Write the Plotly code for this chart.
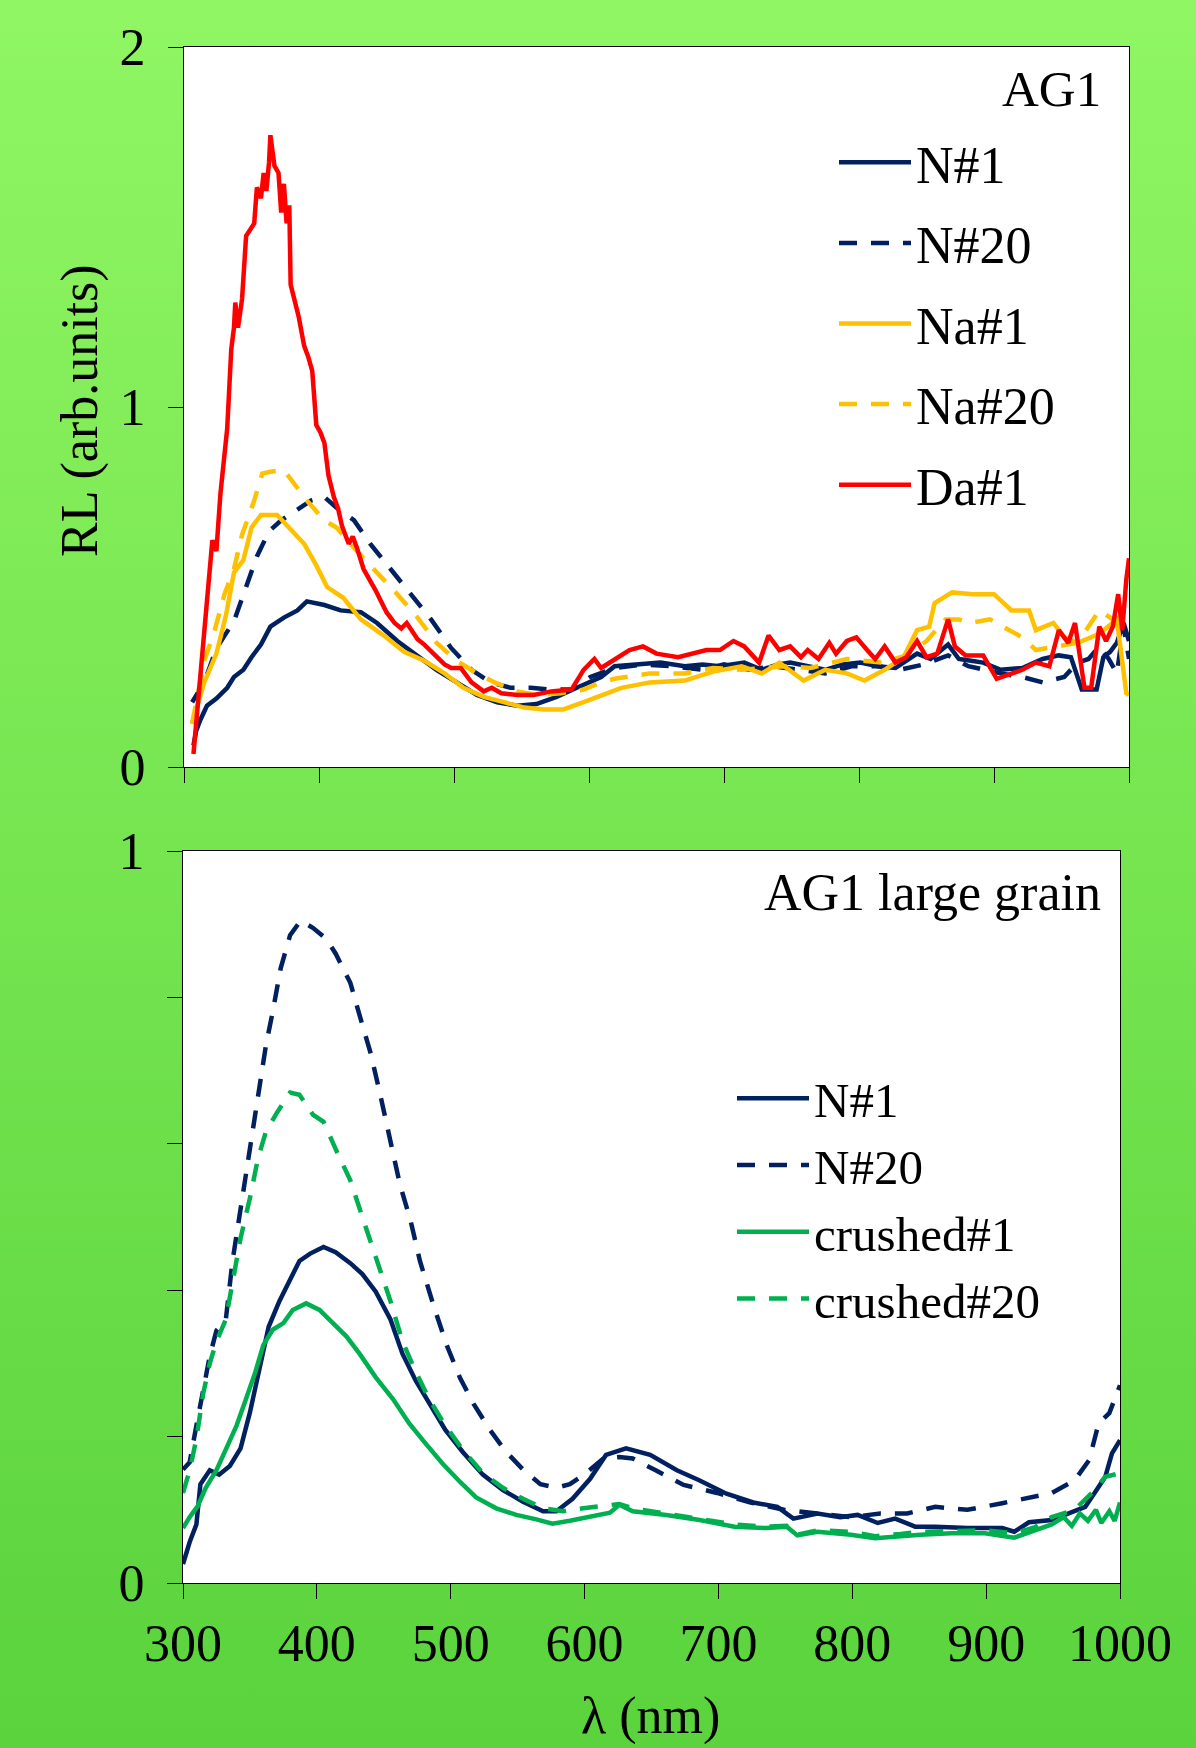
import base64
import plotly.graph_objects as go

W, H = 1196, 1748

# ---------------- data (wavelength nm, RL arb. units) ----------------
AG1_N1 = [(307,0.06),(309,0.10),(312,0.13),(317,0.17),(324,0.19),(332,0.22),(337,0.25),(344,0.27),(350,0.305),(357,0.34),
          (364,0.39),(374,0.415),(384,0.435),(391,0.46),(404,0.45),(416,0.435),(431,0.43),(443,0.40),(458,0.35),(473,0.31),
          (487,0.27),(502,0.235),(517,0.20),(532,0.18),(547,0.17),(561,0.175),(576,0.195),(591,0.22),(609,0.25),(619,0.28),
          (635,0.285),(653,0.29),(671,0.28),(684,0.285),(697,0.28),(715,0.29),(728,0.27),(740,0.285),(749,0.29),(762,0.28),
          (775,0.27),(788,0.285),(801,0.29),(814,0.28),(827,0.275),(843,0.315),(853,0.30),(866,0.34),(874,0.30),(883,0.295),
          (892,0.29),(905,0.27),(921,0.275),(936,0.30),(948,0.31),(957,0.305),(965,0.215),(972,0.215),(976,0.215),(981,0.305),
          (986,0.32),(991,0.345),(996,0.40),(1000,0.35)]
AG1_N20 = [(306,0.18),(315,0.235),(324,0.33),(337,0.405),(346,0.50),(354,0.585),(363,0.655),(372,0.685),(384,0.715),(394,0.74),
           (404,0.75),(413,0.72),(426,0.685),(438,0.62),(453,0.55),(468,0.48),(483,0.41),(498,0.33),(513,0.27),(527,0.235),
           (542,0.22),(557,0.22),(572,0.215),(587,0.215),(601,0.25),(619,0.275),(640,0.285),(660,0.28),(684,0.27),(700,0.285),
           (718,0.27),(736,0.28),(755,0.27),(775,0.26),(795,0.28),(814,0.28),(830,0.27),(848,0.285),(866,0.31),(881,0.28),
           (893,0.27),(905,0.26),(921,0.25),(936,0.235),(952,0.25),(962,0.29),(970,0.30),(978,0.335),(985,0.30),(991,0.26),
           (996,0.39),(1000,0.30)]
AG1_Na1 = [(306,0.12),(315,0.235),(324,0.315),(331,0.42),(337,0.54),(344,0.575),(350,0.665),(357,0.70),(369,0.70),(379,0.66),
           (389,0.62),(398,0.56),(406,0.50),(418,0.47),(431,0.41),(448,0.365),(463,0.32),(478,0.295),(493,0.26),(507,0.22),
           (522,0.195),(537,0.18),(552,0.165),(567,0.16),(581,0.16),(596,0.18),(611,0.20),(624,0.22),(645,0.235),(671,0.24),
           (692,0.265),(713,0.28),(728,0.26),(741,0.29),(759,0.24),(775,0.27),(791,0.26),(804,0.24),(819,0.27),(833,0.305),
           (843,0.38),(852,0.39),(856,0.455),(869,0.485),(884,0.48),(900,0.48),(913,0.435),(926,0.435),(931,0.38),(944,0.40),
           (952,0.36),(962,0.345),(978,0.37),(991,0.41),(998,0.205),(1000,0.20)]
AG1_Na20 = [(306,0.12),(315,0.295),(322,0.37),(330,0.48),(337,0.55),(343,0.645),(352,0.74),(358,0.815),(364,0.82),(374,0.825),
            (379,0.80),(391,0.74),(404,0.685),(413,0.665),(428,0.60),(443,0.54),(458,0.48),(473,0.415),(487,0.345),(502,0.295),
            (517,0.26),(530,0.235),(547,0.21),(561,0.20),(579,0.205),(596,0.215),(609,0.235),(619,0.245),(645,0.26),(671,0.26),
            (692,0.275),(713,0.27),(744,0.28),(764,0.275),(791,0.30),(817,0.29),(835,0.31),(850,0.35),(864,0.41),(874,0.41),
            (882,0.40),(897,0.41),(913,0.375),(921,0.36),(931,0.325),(949,0.335),(962,0.345),(978,0.435),(988,0.41),(996,0.42),
            (1000,0.40)]
AG1_Da1 = [(307,0.036),(313,0.305),(317,0.47),(321,0.63),(324,0.60),(327,0.76),(332,0.94),(335,1.16),(337,1.22),(338,1.29),
           (340,1.22),(343,1.30),(346,1.475),(350,1.50),(352,1.51),(354,1.61),(357,1.58),(359,1.65),(361,1.60),(363,1.68),
           (364,1.755),(367,1.67),(370,1.65),(372,1.54),(374,1.62),(376,1.51),(378,1.56),(379,1.34),(382,1.30),(385,1.25),
           (389,1.17),(392,1.14),(395,1.10),(398,0.95),(401,0.93),(404,0.90),(407,0.81),(411,0.75),(414,0.72),(417,0.67),
           (422,0.62),(425,0.64),(428,0.61),(433,0.55),(442,0.49),(450,0.43),(456,0.40),(461,0.385),(465,0.40),(468,0.385),
           (473,0.355),(478,0.34),(487,0.305),(493,0.285),(498,0.275),(505,0.275),(513,0.235),(522,0.21),(528,0.22),(535,0.205),
           (547,0.20),(559,0.20),(572,0.21),(587,0.215),(596,0.27),(604,0.30),(609,0.275),(619,0.30),(630,0.325),(640,0.335),
           (650,0.315),(666,0.305),(676,0.315),(687,0.325),(697,0.325),(707,0.35),(715,0.335),(726,0.29),(733,0.365),(741,0.325),
           (749,0.335),(757,0.305),(762,0.325),(770,0.30),(778,0.345),(783,0.315),(791,0.35),(798,0.36),(806,0.325),(812,0.30),
           (819,0.335),(827,0.29),(835,0.305),(843,0.35),(850,0.305),(858,0.315),(866,0.41),(871,0.335),(879,0.31),(892,0.31),
           (902,0.245),(910,0.255),(921,0.27),(931,0.29),(941,0.28),(948,0.38),(955,0.345),(960,0.40),(964,0.30),(967,0.22),
           (972,0.22),(975,0.30),(978,0.39),(983,0.35),(988,0.39),(992,0.48),(995,0.38),(998,0.52),(1000,0.58)]

LG_N1 = [(300,0.026),(305,0.056),(310,0.08),(313,0.135),(320,0.154),(327,0.148),(335,0.16),(343,0.184),(350,0.233),(357,0.294),
         (364,0.35),(372,0.385),(380,0.416),(387,0.44),(395,0.45),(405,0.459),(414,0.452),(425,0.437),(434,0.422),(444,0.398),
         (455,0.36),(464,0.313),(474,0.276),(484,0.246),(496,0.209),(509,0.179),(524,0.148),(539,0.127),(554,0.111),(569,0.098),
         (579,0.098),(591,0.115),(604,0.142),(616,0.175),(631,0.184),(649,0.175),(669,0.154),(686,0.14),(706,0.122),(726,0.11),
         (744,0.104),(756,0.088),(774,0.095),(791,0.09),(804,0.093),(819,0.082),(832,0.088),(847,0.077),(862,0.077),(886,0.075),
         (912,0.075),(921,0.07),(932,0.083),(949,0.086),(962,0.095),(974,0.104),(981,0.123),(989,0.145),(994,0.177),(1000,0.195)]
LG_N20 = [(300,0.155),(305,0.165),(310,0.215),(315,0.265),(320,0.31),(325,0.345),(332,0.36),(337,0.44),(343,0.51),(350,0.59),
          (356,0.665),(362,0.735),(367,0.78),(373,0.84),(380,0.885),(388,0.905),(397,0.895),(407,0.88),(414,0.86),(425,0.82),
          (432,0.775),(440,0.725),(447,0.67),(455,0.605),(462,0.545),(470,0.495),(477,0.44),(487,0.38),(497,0.325),(507,0.28),
          (517,0.245),(529,0.21),(541,0.18),(554,0.155),(567,0.135),(579,0.13),(589,0.135),(601,0.15),(614,0.17),(626,0.172),
          (636,0.17),(652,0.155),(674,0.134),(699,0.123),(724,0.11),(749,0.10),(774,0.095),(799,0.09),(821,0.095),(841,0.095),
          (862,0.104),(886,0.10),(912,0.109),(932,0.116),(949,0.123),(966,0.14),(977,0.168),(984,0.218),(992,0.232),(1000,0.27)]
LG_C1 = [(300,0.075),(305,0.09),(311,0.105),(317,0.13),(325,0.154),(332,0.184),(340,0.215),(347,0.251),(354,0.288),(360,0.325),
         (367,0.346),(375,0.355),(382,0.373),(392,0.382),(402,0.373),(412,0.355),(422,0.337),(432,0.313),(444,0.281),(457,0.251),
         (469,0.218),(481,0.191),(494,0.163),(507,0.138),(519,0.117),(534,0.102),(549,0.093),(564,0.087),(576,0.081),(589,0.085),
         (604,0.09),(619,0.096),(626,0.107),(636,0.098),(661,0.093),(686,0.086),(712,0.077),(736,0.075),(751,0.077),(759,0.065),
         (774,0.07),(799,0.066),(817,0.061),(836,0.064),(851,0.066),(874,0.068),(899,0.068),(921,0.062),(936,0.072),(949,0.08),
         (958,0.09),(964,0.078),(970,0.095),(976,0.085),(982,0.10),(986,0.082),(992,0.098),(996,0.085),(1000,0.11)]
LG_C20 = [(300,0.123),(305,0.154),(310,0.197),(315,0.258),(320,0.30),(325,0.33),(332,0.36),(337,0.41),(343,0.471),(350,0.526),
          (356,0.58),(362,0.617),(370,0.642),(380,0.67),(387,0.667),(397,0.64),(405,0.63),(414,0.593),(425,0.55),(434,0.50),
          (444,0.447),(455,0.385),(464,0.33),(474,0.288),(484,0.251),(496,0.215),(509,0.182),(524,0.15),(539,0.13),(554,0.115),
          (569,0.102),(584,0.098),(599,0.102),(614,0.105),(626,0.108),(636,0.102),(661,0.095),(686,0.088),(712,0.08),(736,0.077),
          (751,0.078),(759,0.066),(774,0.072),(799,0.07),(817,0.064),(836,0.067),(851,0.07),(874,0.071),(899,0.072),(921,0.068),
          (936,0.076),(949,0.09),(966,0.10),(979,0.123),(989,0.145),(1000,0.15)]

X_TICKS = [300, 400, 500, 600, 700, 800, 900, 1000]
TOP_Y_TICKS = [0, 1, 2]
BOT_Y_TICKS = [0, 0.2, 0.4, 0.6, 0.8, 1.0]
BOT_Y_TEXT = ["0", "", "", "", "", "1"]

NAVY, GOLD, RED, GREEN = "#002060", "#FFC000", "#FF0000", "#00B050"
FONT = "Liberation Serif"
DASH = "18px,14px"
LW = 4.5

fig = go.Figure()

def add(series, name, color, dash, xa, ya, legend, group):
    xs = [p[0] for p in series]
    ys = [p[1] for p in series]
    fig.add_trace(go.Scatter(x=xs, y=ys, name=name, mode="lines",
                             line=dict(color=color, width=LW, dash=dash),
                             xaxis=xa, yaxis=ya, legend=legend, legendgroup=group))

add(AG1_N1, "N#1", NAVY, "solid", "x", "y", "legend", "a1")
add(AG1_N20, "N#20", NAVY, DASH, "x", "y", "legend", "a2")
add(AG1_Na1, "Na#1", GOLD, "solid", "x", "y", "legend", "a3")
add(AG1_Na20, "Na#20", GOLD, DASH, "x", "y", "legend", "a4")
add(AG1_Da1, "Da#1", RED, "solid", "x", "y", "legend", "a5")

add(LG_N1, "N#1", NAVY, "solid", "x2", "y2", "legend2", None)
add(LG_N20, "N#20", NAVY, DASH, "x2", "y2", "legend2", None)
add(LG_C1, "crushed#1", GREEN, "solid", "x2", "y2", "legend2", None)
add(LG_C20, "crushed#20", GREEN, DASH, "x2", "y2", "legend2", None)

def px(v):
    return v / W

def py(v):
    return 1 - v / H

axis_common = dict(showline=True, linecolor="#000000", linewidth=1, mirror=True,
                   ticks="outside", ticklen=15, tickcolor="#000000", tickwidth=1,
                   showgrid=False, zeroline=False, automargin=False,
                   tickfont=dict(family=FONT, size=52, color="#000000"))

fig.update_layout(
    template="none",
    xaxis=dict(domain=[px(184), px(1129)], anchor="y", range=[300, 1000], tickvals=X_TICKS,
               showticklabels=False, **axis_common),
    yaxis=dict(domain=[py(767), py(47)], anchor="x", range=[0, 2], tickvals=TOP_Y_TICKS,
               ticklabelstandoff=12, **axis_common),
    xaxis2=dict(domain=[px(183), px(1120)], anchor="y2", range=[300, 1000], tickvals=X_TICKS,
                **axis_common),
    yaxis2=dict(domain=[py(1583), py(851)], anchor="x2", range=[0, 1], tickvals=BOT_Y_TICKS,
                ticktext=BOT_Y_TEXT, ticklabelstandoff=12, **axis_common),
)

svg = ("<svg xmlns='http://www.w3.org/2000/svg' width='10' height='100' viewBox='0 0 10 100' "
       "preserveAspectRatio='none'><defs><linearGradient id='g' x1='0' y1='0' x2='0' y2='1'>"
       "<stop offset='0' stop-color='#90F663'/><stop offset='1' stop-color='#5AD33C'/>"
       "</linearGradient></defs><rect x='0' y='0' width='10' height='100' fill='url(#g)'/></svg>")
uri = "data:image/svg+xml;base64," + base64.b64encode(svg.encode()).decode()

fig.update_layout(
    width=W, height=H, margin=dict(l=0, r=0, t=0, b=0, autoexpand=False),
    paper_bgcolor="#74E650", plot_bgcolor="white",
    font=dict(family=FONT, color="#000000"),
    showlegend=True,
    images=[dict(source=uri, xref="paper", yref="paper", x=0, y=1, sizex=1, sizey=1,
                 xanchor="left", yanchor="top", sizing="stretch", layer="below")],
    shapes=[
        dict(type="rect", xref="x domain", yref="y domain", x0=0, x1=1, y0=0, y1=1,
             fillcolor="white", line=dict(width=0), layer="below"),
        dict(type="rect", xref="x2 domain", yref="y2 domain", x0=0, x1=1, y0=0, y1=1,
             fillcolor="white", line=dict(width=0), layer="below"),
    ],
    legend=dict(x=px(834), y=py(122), xanchor="left", yanchor="top", bgcolor="rgba(0,0,0,0)",
                font=dict(family=FONT, size=52, color="#000000"), itemwidth=72,
                tracegroupgap=10, traceorder="grouped", borderwidth=0),
    legend2=dict(x=px(732), y=py(1060), xanchor="left", yanchor="top", bgcolor="rgba(0,0,0,0)",
                 font=dict(family=FONT, size=49, color="#000000"), itemwidth=72, borderwidth=0),
    annotations=[
        dict(text="AG1", x=px(1103), y=py(89), xref="paper", yref="paper", xanchor="right",
             yanchor="middle", showarrow=False, font=dict(family=FONT, size=51, color="#000000")),
        dict(text="AG1 large grain", x=px(1103), y=py(892), xref="paper", yref="paper", xanchor="right",
             yanchor="middle", showarrow=False, font=dict(family=FONT, size=52, color="#000000")),
        dict(text="RL (arb.units)", x=px(80), y=py(411), xref="paper", yref="paper", xanchor="center",
             yanchor="middle", textangle=-90, showarrow=False,
             font=dict(family=FONT, size=52, color="#000000")),
        dict(text="λ (nm)", x=px(650), y=py(1716), xref="paper", yref="paper", xanchor="center",
             yanchor="middle", showarrow=False, font=dict(family=FONT, size=52, color="#000000")),
    ],
)

fig.write_html("out.html")
